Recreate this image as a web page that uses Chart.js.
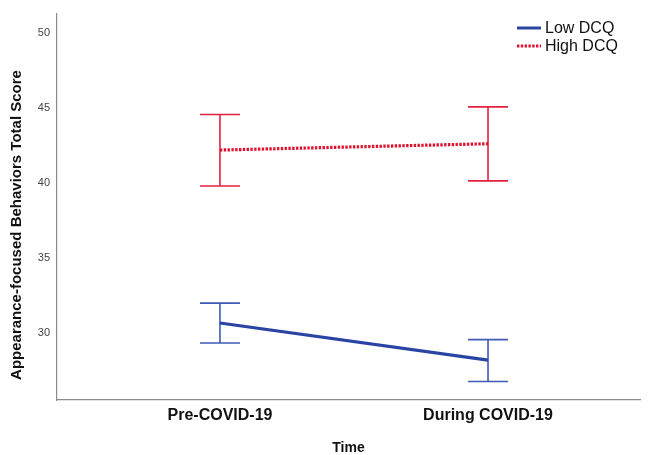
<!DOCTYPE html>
<html>
<head>
<meta charset="utf-8">
<script src="https://cdn.jsdelivr.net/npm/chart.js@4/dist/chart.umd.min.js"></script>
<style>
  html, body { margin: 0; padding: 0; background: #fff; }
  #wrap { width: 649px; height: 455px; }
</style>
</head>
<body>
<div id="wrap"><canvas id="myChart" width="649" height="455"></canvas></div>
<script>
// values
const categories = ['Pre-COVID-19', 'During COVID-19'];
const yTicks = [30, 35, 40, 45, 50];
const yTitle = 'Appearance-focused Behaviors Total Score';

const lowMean  = [30.64, 28.16];
const lowUpper = [31.97, 29.53];
const lowLower = [29.31, 26.74];

const highMean  = [42.19, 42.61];
const highUpper = [44.56, 45.07];
const highLower = [39.79, 40.13];

const toPoints = arr => arr.map((v, i) => ({ x: i, y: v }));
const FONT = '"Liberation Sans", Arial, sans-serif';

// error bars, drawn under the lines
const errorBars = {
  id: 'errorBars',
  beforeDatasetsDraw(chart) {
    const { ctx, scales: { x, y } } = chart;
    const bars = [
      { up: lowUpper, lo: lowLower, color: '#3f5ab4' },
      { up: highUpper, lo: highLower, color: '#e3203f' }
    ];
    ctx.save();
    ctx.lineWidth = 1.6;
    bars.forEach(b => {
      ctx.strokeStyle = b.color;
      b.up.forEach((u, i) => {
        const px = x.getPixelForValue(i);
        const pu = y.getPixelForValue(u);
        const pl = y.getPixelForValue(b.lo[i]);
        ctx.beginPath();
        ctx.moveTo(px, pu); ctx.lineTo(px, pl);
        ctx.moveTo(px - 20, pu); ctx.lineTo(px + 20, pu);
        ctx.moveTo(px - 20, pl); ctx.lineTo(px + 20, pl);
        ctx.stroke();
      });
    });
    ctx.restore();
  }
};

// legend in the top right corner + y axis title (sits a bit below centre in the original)
const extras = {
  id: 'extras',
  afterDraw(chart) {
    const ctx = chart.ctx;
    ctx.save();
    ctx.font = '16px ' + FONT;
    ctx.textBaseline = 'middle';
    chart.data.datasets.forEach((ds, i) => {
      const yy = 28 + i * 18;
      ctx.strokeStyle = ds.borderColor;
      ctx.lineWidth = 3;
      ctx.setLineDash(ds.borderDash || []);
      ctx.beginPath();
      ctx.moveTo(517, yy); ctx.lineTo(541, yy);
      ctx.stroke();
      ctx.setLineDash([]);
      ctx.fillStyle = '#111';
      ctx.fillText(ds.label, 545, yy + 1);
    });

    ctx.translate(17, 225);
    ctx.rotate(-Math.PI / 2);
    ctx.font = 'bold 15px ' + FONT;
    ctx.textAlign = 'center';
    ctx.fillStyle = '#111';
    ctx.fillText(yTitle, 0, 0);
    ctx.restore();
  }
};

new Chart(document.getElementById('myChart'), {
  type: 'line',
  data: {
    datasets: [
      {
        label: 'Low DCQ',
        data: toPoints(lowMean),
        borderColor: '#2a44a4',
        borderWidth: 3.2,
        pointRadius: 0,
        fill: false
      },
      {
        label: 'High DCQ',
        data: toPoints(highMean),
        borderColor: '#e0132f',
        borderWidth: 3.2,
        borderDash: [2.4, 1.4],
        borderCapStyle: 'butt',
        pointRadius: 0,
        fill: false
      }
    ]
  },
  options: {
    responsive: false,
    animation: false,
    layout: { padding: { top: 12, right: 9, left: 0, bottom: 0 } },
    plugins: {
      legend: { display: false },
      tooltip: { enabled: false }
    },
    scales: {
      x: {
        type: 'linear',
        min: -0.608,
        max: 1.567,
        afterBuildTicks: s => { s.ticks = [0, 1].map(v => ({ value: v })); },
        afterFit: s => { s.height = 55; },
        grid: { display: false, drawTicks: false },
        border: { display: true, color: '#8c8c8c', width: 1.2 },
        ticks: {
          padding: 6,
          maxRotation: 0,
          color: '#111',
          font: { family: FONT, size: 16, weight: 'bold' },
          callback: v => categories[v]
        },
        title: {
          display: true,
          text: 'Time',
          color: '#111',
          padding: { top: 0, bottom: -2 },
          font: { family: FONT, size: 14, weight: 'bold' }
        }
      },
      y: {
        min: 25.5,
        max: 51.3,
        afterBuildTicks: s => { s.ticks = yTicks.map(v => ({ value: v })); },
        afterFit: s => { s.width = 57; },
        grid: { display: false, drawTicks: false },
        border: { display: true, color: '#8c8c8c', width: 1.2 },
        ticks: {
          padding: 7,
          color: '#444',
          font: { family: FONT, size: 11 }
        }
      }
    }
  },
  plugins: [errorBars, extras]
});
</script>
</body>
</html>
